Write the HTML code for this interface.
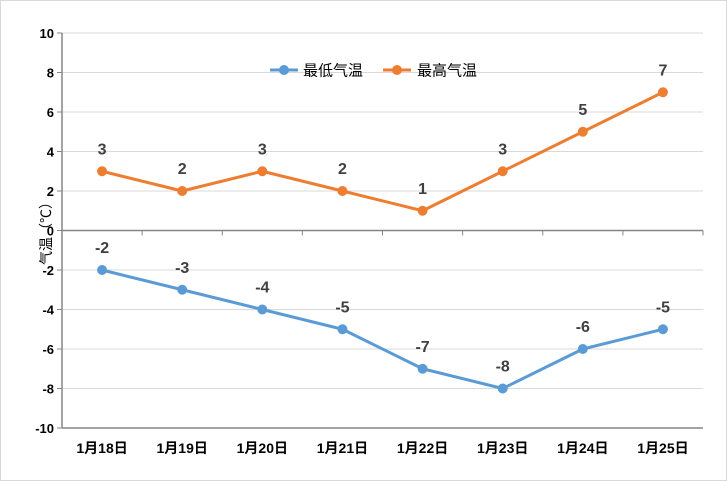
<!DOCTYPE html>
<html><head><meta charset="utf-8"><style>
body{margin:0;background:#fff}
svg{display:block;font-family:"Liberation Sans","Noto Sans CJK SC",sans-serif}
</style></head><body>
<svg id="c" width="727" height="481">
<rect x="0.5" y="0.5" width="726" height="480" fill="#fff" stroke="#d9d9d9"/>
<g id="grid"></g>
<g id="axes"></g>
<g id="series"></g>
<text x="0" y="0" transform="translate(51,230) rotate(-90)" text-anchor="middle" font-size="14" fill="#000">气温（℃）</text>
<g>
<g><line x1="270" y1="70" x2="298" y2="70" stroke="#5b9bd5" stroke-width="3"/><circle cx="284" cy="70" r="5" fill="#5b9bd5"/><text x="303" y="75.5" font-size="15" fill="#000">最低气温</text></g>
<g><line x1="383" y1="70" x2="411" y2="70" stroke="#ed7d31" stroke-width="3"/><circle cx="397" cy="70" r="5" fill="#ed7d31"/><text x="417" y="75.5" font-size="15" fill="#000">最高气温</text></g>
</g>
</svg>
<script>
const categories=["1月18日","1月19日","1月20日","1月21日","1月22日","1月23日","1月24日","1月25日"];
const lowTemps=[-2,-3,-4,-5,-7,-8,-6,-5];
const highTemps=[3,2,3,2,1,3,5,7];
const yTicks=[10,8,6,4,2,0,-2,-4,-6,-8,-10];
const NS="http://www.w3.org/2000/svg";
const L=62,R=703,T=33,B=428,yMin=-10,yMax=10;
const y=v=>B-(v-yMin)/(yMax-yMin)*(B-T);
const bw=(R-L)/categories.length;
const x=i=>L+bw*(i+0.5);
function mk(tag,attrs,parent){const e=document.createElementNS(NS,tag);for(const k in attrs)e.setAttribute(k,attrs[k]);parent.appendChild(e);return e;}
const grid=document.getElementById('grid'),axes=document.getElementById('axes'),series=document.getElementById('series');
yTicks.forEach(v=>{
  if(v!==0&&v!==yMin){const g=mk('line',{x1:L,x2:R,y1:y(v),y2:y(v),stroke:'#d9d9d9','stroke-width':1},grid);
  
  }
  const tk=mk('line',{x1:L-5,x2:L,y1:y(v),y2:y(v),stroke:'#868686'},axes);
  
  
  const t=mk('text',{x:L-8,y:y(v)+5,'text-anchor':'end','font-size':13,'font-weight':'bold',fill:'#000'},axes);
  t.textContent=v;
  
  
});
const ya=mk('line',{x1:L,x2:L,y1:T,y2:B,stroke:'#868686','stroke-width':1.5},axes);


const zl=mk('line',{x1:L,x2:R,y1:y(0),y2:y(0),stroke:'#868686','stroke-width':1.5},axes);


const bl=mk('line',{x1:L,x2:R,y1:B,y2:B,stroke:'#868686','stroke-width':1.5},axes);


categories.forEach((c,i)=>{
  const tk=mk('line',{x1:L+bw*(i+1),x2:L+bw*(i+1),y1:y(0),y2:y(0)+5,stroke:'#868686'},axes);
  
  
  const t=mk('text',{x:x(i),y:B+25,'text-anchor':'middle','font-size':14,'font-weight':'bold',fill:'#000'},axes);
  t.textContent=c;
  
  
});
function draw(data,color,name){
  const p=mk('polyline',{points:data.map((v,i)=>x(i)+','+y(v)).join(' '),fill:'none',stroke:color,'stroke-width':3,'stroke-linejoin':'round'},series);
  
  
  data.forEach((v,i)=>{
    const c=mk('circle',{cx:x(i),cy:y(v),r:5,fill:color},series);
    
    
    const t=mk('text',{x:x(i),y:y(v)-17,'text-anchor':'middle','font-size':16,'font-weight':'bold',fill:'#404040'},series);
    t.textContent=v;
    
    
  });
}
draw(highTemps,'#ed7d31','high-temp');
draw(lowTemps,'#5b9bd5','low-temp');
</script>
</body></html>
